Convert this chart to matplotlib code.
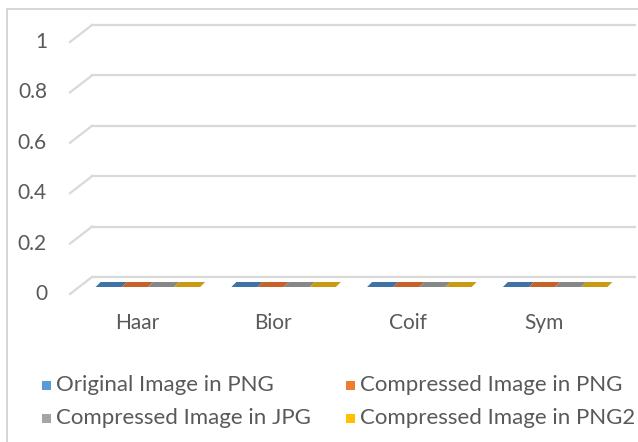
import matplotlib
matplotlib.use("Agg")
import matplotlib.pyplot as plt
from matplotlib.patches import Polygon, Rectangle
from matplotlib.lines import Line2D
from matplotlib.transforms import ScaledTranslation, IdentityTransform

categories = ["Haar", "Bior", "Coif", "Sym"]
series = ["Original Image in PNG", "Compressed Image in PNG",
          "Compressed Image in JPG", "Compressed Image in PNG2"]
values = [
    [0, 0, 0, 0],   # Original Image in PNG
    [0, 0, 0, 0],   # Compressed Image in PNG
    [0, 0, 0, 0],   # Compressed Image in JPG
    [0, 0, 0, 0],   # Compressed Image in PNG2
]
yticks = [0, 0.2, 0.4, 0.6, 0.8, 1]
ytick_labels = ["0", "0.2", "0.4", "0.6", "0.8", "1"]

legend_colors = ["#5b9bd5", "#ed7d31", "#a5a5a5", "#ffc000"]
bar_colors = ["#3f72a6", "#c4622a", "#878787", "#c99b12"]
text_color = "#595959"
grid_color = "#d9d9d9"

plt.rcParams['font.family'] = ['Lato', 'DejaVu Sans']
fs = 15

W, H = 638, 442
fig = plt.figure(figsize=(W / 100, H / 100), dpi=100)
ax = fig.add_axes([92 / W, (H - 277) / H, (635 - 92) / W, 252 / H])
ax.set_xlim(-0.5, len(categories) - 0.5)
ax.set_ylim(0, 1)
ax.axis("off")

def px(dx, dy):
    # pixel offset (y up)
    return ScaledTranslation(dx / 100, dy / 100, fig.dpi_scale_trans)

# back wall gridlines + slanted floor edge
for v in yticks:
    ax.axhline(v, color=grid_color, lw=1.6, clip_on=False)
    x0, y0 = ax.transData.transform((-0.5, v))
    fig.add_artist(Line2D([x0, x0 - 22], [y0, y0 - 17], color=grid_color,
                          lw=1.6, transform=IdentityTransform()))

for v, lab in zip(yticks, ytick_labels):
    ax.text(-0.5, v, lab, transform=ax.transData + px(-45, -17),
            ha="right", va="center", fontsize=fs, color=text_color)

# flat 3D-ish bars
group = 0.77
bw = group / len(series)
back, front = (-7, -5), (-12, -10)
for j, name in enumerate(series):
    for i, cat in enumerate(categories):
        v = values[j][i]
        xa = i - group / 2 + j * bw
        xb = xa + bw
        pa = ax.transData.transform((xa, v))
        pb = ax.transData.transform((xb, v))
        pts = [(pa[0] + back[0], pa[1] + back[1]),
               (pb[0] + back[0], pb[1] + back[1]),
               (pb[0] + front[0], pb[1] + front[1]),
               (pa[0] + front[0], pa[1] + front[1])]
        fig.add_artist(Polygon(pts, closed=True, facecolor=bar_colors[j],
                               edgecolor="none", transform=IdentityTransform()))

for i, cat in enumerate(categories):
    ax.text(i, 0, cat, transform=ax.transData + px(-23, -46),
            ha="center", va="center", fontsize=fs, color=text_color)

# legend, two columns, row-major like Excel
col_x = [42, 346]
row_y = [385, 418]
for k, (name, c) in enumerate(zip(series, legend_colors)):
    x = col_x[k % 2]
    y = H - row_y[k // 2]
    fig.add_artist(Rectangle((x, y - 4.5), 9, 9, facecolor=c, edgecolor="none",
                             transform=IdentityTransform()))
    fig.text((x + 14) / W, y / H, name, ha="left", va="center",
             fontsize=16, color=text_color)

# chart area border
fig.add_artist(Rectangle((7, -20), 700, H - 9 + 20, fill=False,
                         edgecolor="#d0d0d0", lw=1.2,
                         transform=IdentityTransform()))

fig.savefig("out.png", dpi=100)
